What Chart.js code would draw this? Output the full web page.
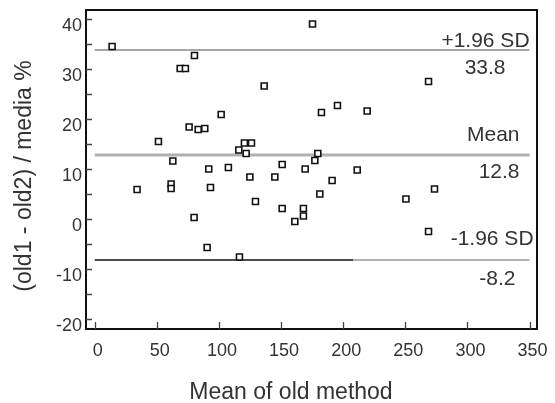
<!DOCTYPE html>
<html>
<head>
<meta charset="utf-8">
<script src="https://cdn.jsdelivr.net/npm/chart.js@4.4.0/dist/chart.umd.min.js"></script>
<style>
  html, body { margin: 0; padding: 0; background: #fff; }
  #wrap { width: 555px; height: 403px; }
</style>
</head>
<body>
<div id="wrap"><canvas id="baChart" width="555" height="403"></canvas></div>
<script>
// Bland-Altman: mean of old method vs (old1 - old2) / media %
const meanOld = [14.0, 80.3, 68.8, 73.0, 101.8, 76.0, 83.3, 88.6, 51.3, 116.0,
                 62.9, 91.8, 107.6, 175.3, 136.4, 182.5, 195.4, 219.3, 120.5, 126.2,
                 121.9, 179.6, 177.2, 150.9, 169.4, 211.3, 268.7, 34.1, 61.5, 61.5,
                 93.2, 80.0, 90.5, 116.5, 124.9, 145.0, 191.1, 181.2, 129.4, 150.9,
                 168.0, 168.0, 161.1, 250.5, 273.5, 268.7];
const pctDiff = [34.5, 32.7, 30.1, 30.1, 20.9, 18.4, 17.9, 18.1, 15.5, 13.8,
                 11.6, 10.0, 10.3, 39.0, 26.6, 21.3, 22.7, 21.6, 15.2, 15.2,
                 13.1, 13.1, 11.7, 10.9, 10.0, 9.8, 27.5, 5.9, 7.0, 6.1,
                 6.3, 0.3, -5.7, -7.6, 8.4, 8.4, 7.7, 5.0, 3.5, 2.1,
                 2.1, 0.6, -0.5, 4.0, 6.0, -2.5];

const xTicks = [0, 50, 100, 150, 200, 250, 300, 350];
const yTicks = [-20, -10, 0, 10, 20, 30, 40];

const upperSD = 33.8;
const meanDiff = 12.8;
const lowerSD = -8.2;
const lineEnds = [0, 350];
const lowerSplit = 208; // lower line turns grey here in the original

const FONT = '"Liberation Sans", Arial, sans-serif';

function hLine(y, x0, x1) {
    return [{ x: x0, y: y }, { x: x1, y: y }];
}

const decorations = {
    id: 'decorations',
    afterDraw(chart) {
        const ctx = chart.ctx;
        const area = chart.chartArea;
        const xs = chart.scales.x;
        const ys = chart.scales.y;
        ctx.save();

        // frame
        ctx.strokeStyle = '#111';
        ctx.lineWidth = 2;
        ctx.strokeRect(area.left, area.top, area.right - area.left, area.bottom - area.top);

        // inward tick marks
        ctx.strokeStyle = '#444';
        ctx.lineWidth = 1.3;
        ctx.beginPath();
        for (let v = yTicks[0]; v <= yTicks[yTicks.length - 1]; v += 5) {
            const py = Math.round(ys.getPixelForValue(v)) + 0.5;
            ctx.moveTo(area.left, py);
            ctx.lineTo(area.left + 6, py);
        }
        xTicks.forEach(v => {
            const px = Math.round(xs.getPixelForValue(v)) + 0.5;
            ctx.moveTo(px, area.bottom);
            ctx.lineTo(px, area.bottom - 7);
        });
        ctx.stroke();

        // line labels
        ctx.fillStyle = '#333';
        ctx.font = '21px ' + FONT;
        ctx.textAlign = 'right';
        ctx.textBaseline = 'alphabetic';
        const rx = xs.getPixelForValue(lineEnds[1]);
        const pu = ys.getPixelForValue(upperSD);
        const pm = ys.getPixelForValue(meanDiff);
        const pl = ys.getPixelForValue(lowerSD);
        ctx.fillText('+1.96 SD', rx, pu - 3);
        ctx.fillText(upperSD.toFixed(1), rx - 24, pu + 24);
        ctx.fillText('Mean', rx - 10, pm - 14);
        ctx.fillText(meanDiff.toFixed(1), rx - 10, pm + 23);
        ctx.fillText('-1.96 SD', rx + 4, pl - 15);
        ctx.fillText(lowerSD.toFixed(1), rx - 14, pl + 25);

        // axis titles
        ctx.font = '23px ' + FONT;
        ctx.textAlign = 'center';
        ctx.fillText('Mean of old method', 291, 399);
        ctx.translate(31, 176);
        ctx.rotate(-Math.PI / 2);
        ctx.fillText('(old1 - old2) / media %', 0, 0);
        ctx.restore();
    }
};

new Chart(document.getElementById('baChart'), {
    type: 'scatter',
    data: {
        datasets: [
            {
                label: 'differences',
                data: meanOld.map((x, i) => ({ x: x, y: pctDiff[i] })),
                pointStyle: 'rect',
                pointRadius: 4.2,
                borderWidth: 1.6,
                borderColor: '#111',
                backgroundColor: '#fff',
                order: 0
            },
            {
                type: 'line',
                label: '+1.96 SD',
                data: hLine(upperSD, lineEnds[0], lineEnds[1]),
                borderColor: '#8a8a8a',
                borderWidth: 1.6,
                pointRadius: 0,
                order: 1
            },
            {
                type: 'line',
                label: 'Mean',
                data: hLine(meanDiff, lineEnds[0], lineEnds[1]),
                borderColor: '#b0b0b0',
                borderWidth: 3,
                pointRadius: 0,
                order: 1
            },
            {
                type: 'line',
                label: '-1.96 SD',
                data: hLine(lowerSD, lineEnds[0], lowerSplit),
                borderColor: '#111',
                borderWidth: 1.6,
                pointRadius: 0,
                order: 1
            },
            {
                type: 'line',
                label: '-1.96 SD (rest)',
                data: hLine(lowerSD, lowerSplit, lineEnds[1]),
                borderColor: '#999',
                borderWidth: 1.6,
                pointRadius: 0,
                order: 1
            }
        ]
    },
    options: {
        responsive: false,
        devicePixelRatio: 1,
        animation: false,
        layout: { padding: { left: 0, top: 10, right: 18, bottom: 0 } },
        plugins: {
            legend: { display: false },
            tooltip: { enabled: false }
        },
        scales: {
            x: {
                type: 'linear',
                min: -7,
                max: 356,
                grid: { display: false, drawTicks: false },
                border: { display: false },
                afterBuildTicks: s => { s.ticks = xTicks.map(v => ({ value: v })); },
                afterFit: s => {
                    s.height = 74;
                    s.paddingLeft = 0;
                    s.paddingRight = 0;
                },
                ticks: {
                    padding: 11,
                    labelOffset: 3,
                    maxRotation: 0,
                    autoSkip: false,
                    color: '#333',
                    font: { family: FONT, size: 18 }
                }
            },
            y: {
                type: 'linear',
                min: -22,
                max: 41.8,
                grid: { display: false, drawTicks: false },
                border: { display: false },
                afterBuildTicks: s => { s.ticks = yTicks.map(v => ({ value: v })); },
                afterFit: s => {
                    s.width = 86;
                    s.paddingTop = 0;
                    s.paddingBottom = 0;
                },
                ticks: {
                    padding: 4,
                    labelOffset: 7,
                    autoSkip: false,
                    color: '#333',
                    font: { family: FONT, size: 18 }
                }
            }
        }
    },
    plugins: [decorations]
});
</script>
</body>
</html>
